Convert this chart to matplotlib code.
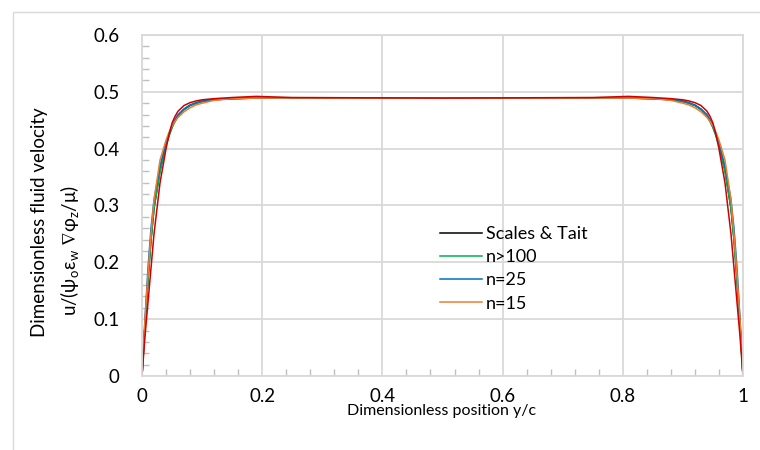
import matplotlib
matplotlib.use("Agg")
import matplotlib.pyplot as plt
from matplotlib.patches import Rectangle
from matplotlib.ticker import MultipleLocator

plt.rcParams['font.family'] = ['Lato', 'DejaVu Sans']
plt.rcParams['mathtext.fontset'] = 'custom'
plt.rcParams['mathtext.rm'] = 'Lato'
plt.rcParams['mathtext.fallback'] = 'stixsans'

# positions y/c shared by all curves
pos = [0, 0.005, 0.01, 0.015, 0.02, 0.03, 0.04, 0.045, 0.05, 0.055, 0.06, 0.07, 0.08, 0.09, 0.10, 0.12,
       0.15, 0.19, 0.25, 0.50, 0.75, 0.81, 0.85, 0.88, 0.90, 0.91, 0.92, 0.93, 0.94, 0.945, 0.95,
       0.955, 0.96, 0.97, 0.98, 0.985, 0.99, 0.995, 1]

# velocities
scales_tait = [0, 0.09, 0.17, 0.24, 0.295, 0.362, 0.407, 0.424, 0.438, 0.449, 0.458, 0.469, 0.476, 0.480,
               0.483, 0.486, 0.488, 0.489, 0.489, 0.489, 0.489, 0.489, 0.488, 0.486, 0.483, 0.480, 0.476,
               0.469, 0.458, 0.449, 0.438, 0.424, 0.407, 0.362, 0.295, 0.24, 0.17, 0.09, 0]
n_100 = [0, 0.09, 0.17, 0.24, 0.295, 0.36, 0.405, 0.422, 0.437, 0.448, 0.457, 0.469, 0.476, 0.480,
         0.483, 0.486, 0.488, 0.489, 0.489, 0.489, 0.489, 0.489, 0.488, 0.486, 0.483, 0.480, 0.476,
         0.469, 0.457, 0.448, 0.437, 0.422, 0.405, 0.36, 0.295, 0.24, 0.17, 0.09, 0]
n_25 = [0, 0.10, 0.19, 0.26, 0.31, 0.37, 0.41, 0.426, 0.44, 0.451, 0.46, 0.47, 0.477, 0.481,
        0.484, 0.487, 0.488, 0.489, 0.489, 0.489, 0.489, 0.489, 0.488, 0.487, 0.484, 0.481, 0.477,
        0.47, 0.46, 0.451, 0.44, 0.426, 0.41, 0.37, 0.31, 0.26, 0.19, 0.10, 0]
n_15 = [0, 0.10, 0.18, 0.25, 0.31, 0.38, 0.415, 0.429, 0.44, 0.448, 0.455, 0.465, 0.472, 0.477,
        0.480, 0.485, 0.488, 0.489, 0.489, 0.489, 0.489, 0.489, 0.488, 0.485, 0.480, 0.477, 0.472,
        0.465, 0.455, 0.448, 0.44, 0.429, 0.415, 0.38, 0.31, 0.25, 0.18, 0.10, 0]
other = [0, 0.07, 0.13, 0.19, 0.25, 0.34, 0.40, 0.425, 0.445, 0.457, 0.466, 0.476, 0.481, 0.484,
         0.486, 0.488, 0.490, 0.492, 0.490, 0.489, 0.490, 0.492, 0.490, 0.488, 0.486, 0.484, 0.481,
         0.476, 0.466, 0.457, 0.445, 0.425, 0.40, 0.34, 0.25, 0.19, 0.13, 0.07, 0]

fig = plt.figure(figsize=(7.6, 4.5), dpi=100)
ax = fig.add_axes([142/760, 1-376/450, 601/760, 341/450])

lw = 1.1
ax.plot(pos, scales_tait, color='black', lw=lw, label='Scales & Tait')
ax.plot(pos, n_100, color='#00b050', lw=lw, label='n>100')
ax.plot(pos, n_25, color='#0070c0', lw=lw, label='n=25')
ax.plot(pos, n_15, color='#ed7d31', lw=lw, label='n=15')
ax.plot(pos, other, color='#d00000', lw=lw)

ax.set_xlim(0, 1)
ax.set_ylim(0, 0.6)
ax.xaxis.set_major_locator(MultipleLocator(0.2))
ax.xaxis.set_minor_locator(MultipleLocator(0.04))
ax.yaxis.set_major_locator(MultipleLocator(0.1))
ax.yaxis.set_minor_locator(MultipleLocator(0.02))
ax.xaxis.set_major_formatter(lambda v, p: f'{v:g}')
ax.yaxis.set_major_formatter(lambda v, p: f'{v:g}')

ax.grid(True, which='major', color='#d9d9d9', lw=1.3)
for s in ax.spines.values():
    s.set_color('#d9d9d9')
    s.set_linewidth(1.3)
ax.tick_params(which='major', length=0, labelsize=13.5, colors='black')
ax.tick_params(axis='y', which='major', pad=16)
ax.tick_params(axis='x', which='major', pad=9)
ax.tick_params(which='minor', direction='in', length=5, color='#bfbfbf', width=1)
ax.set_axisbelow(True)

fig.text(442/760, 1-411/450, 'Dimensionless position y/c', ha='center', va='center', fontsize=11.5)
fig.text(40/760, 1-222/450, 'Dimensionless fluid velocity', rotation=90,
         ha='center', va='center', fontsize=13.5)
fig.text(70/760, 1-251/450,
         r'u/(ψ$_\mathrm{o}$ε$_\mathrm{w}$ $\nabla$φ$_\mathrm{z}$/μ)', rotation=90,
         ha='center', va='center', fontsize=13.5)

ax.legend(loc='upper left', bbox_to_anchor=(440/760, 1-226/450), bbox_transform=fig.transFigure,
          frameon=False, fontsize=13, handlelength=2.3, handletextpad=0.25, labelspacing=0.4,
          borderaxespad=0, borderpad=0)

fig.patches.append(Rectangle((13/760, -0.1), 2, 1.1 - 12/450, transform=fig.transFigure,
                             fill=False, edgecolor='#d9d9d9', lw=1))

fig.savefig('out.png', dpi=100)
